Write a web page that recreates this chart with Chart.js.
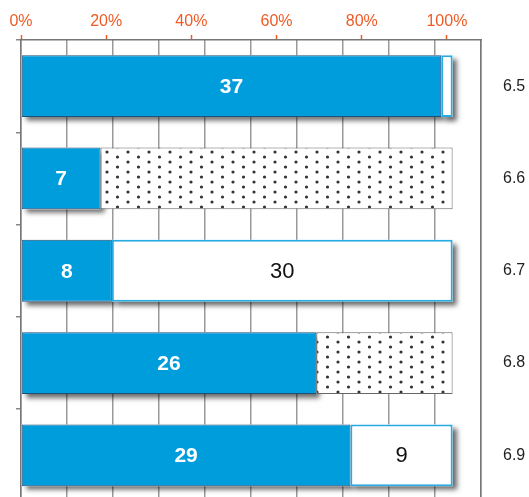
<!DOCTYPE html>
<html>
<head>
<meta charset="utf-8">
<script src="https://cdn.jsdelivr.net/npm/chart.js@4.4.1/dist/chart.umd.min.js"></script>
<style>
  html, body { margin: 0; padding: 0; overflow: hidden; background: #fff; }
  canvas { display: block; }
</style>
</head>
<body>
<canvas id="chart" width="529" height="504"></canvas>
<script>
// categories, top to bottom
const categories = ['6.5', '6.6', '6.7', '6.8', '6.9'];
// blue segment counts
const blueValues = [37, 7, 8, 26, 29];
// open (white) remainder
const whiteValues = [1, null, 30, null, 9];
// dotted remainder
const dottedValues = [null, 31, null, 12, null];
// top percentage axis
const pctTicks = [0, 20, 40, 60, 80, 100];

const ORANGE = '#f15a24';
const FONT = '"Liberation Sans", Arial, sans-serif';

// dotted fill
function makeDots() {
    const c = document.createElement('canvas');
    c.width = 21;
    c.height = 10;
    const g = c.getContext('2d');
    g.fillStyle = '#fff';
    g.fillRect(0, 0, 21, 10);
    g.fillStyle = '#333';
    g.beginPath();
    g.arc(2, 2, 1.6, 0, Math.PI * 2);
    g.arc(12.5, 7, 1.6, 0, Math.PI * 2);
    g.fill();
    return g.createPattern(c, 'repeat');
}

// bar elements clip their own drawing, so the drop shadow goes underneath first
const barShadow = {
    id: 'barShadow',
    beforeDatasetsDraw(chart) {
        const ctx = chart.ctx;
        ctx.save();
        ctx.fillStyle = '#fff';
        ctx.shadowColor = 'rgba(0,0,0,0.6)';
        ctx.shadowBlur = 5;
        ctx.shadowOffsetX = 4;
        ctx.shadowOffsetY = 4;
        chart.data.datasets.forEach((ds, i) => {
            if (!ds.shadow) return;
            chart.getDatasetMeta(i).data.forEach((bar, j) => {
                if (ds.data[j] == null) return;
                const h = bar.height;
                ctx.fillRect(Math.min(bar.x, bar.base), bar.y - h / 2, Math.abs(bar.x - bar.base), h);
            });
        });
        ctx.restore();
    }
};

const valueLabels = {
    id: 'valueLabels',
    afterDatasetsDraw(chart) {
        const ctx = chart.ctx;
        ctx.save();
        ctx.textAlign = 'center';
        ctx.textBaseline = 'middle';
        chart.data.datasets.forEach((ds, i) => {
            if (!ds.labelFont) return;
            chart.getDatasetMeta(i).data.forEach((bar, j) => {
                const v = ds.data[j];
                if (v == null) return;
                if (Math.abs(bar.x - bar.base) < 30) return;
                ctx.font = ds.labelFont;
                ctx.fillStyle = ds.labelColor;
                ctx.fillText(v, (bar.x + bar.base) / 2, bar.y + 1);
            });
        });
        ctx.restore();
    }
};

new Chart(document.getElementById('chart'), {
    type: 'bar',
    data: {
        labels: categories,
        datasets: [
            {
                data: blueValues,
                backgroundColor: '#009ddc',
                borderColor: '#1f4e79',
                borderWidth: 1,
                borderSkipped: false,
                shadow: true,
                labelFont: 'bold 21px ' + FONT,
                labelColor: '#fff'
            },
            {
                data: whiteValues,
                backgroundColor: '#fff',
                borderColor: '#29abe2',
                borderWidth: 2,
                borderSkipped: false,
                shadow: true,
                labelFont: '22px ' + FONT,
                labelColor: '#111'
            },
            {
                data: dottedValues,
                backgroundColor: makeDots(),
                borderColor: '#666',
                borderWidth: 1,
                borderSkipped: false
            }
        ]
    },
    options: {
        indexAxis: 'y',
        responsive: false,
        animation: false,
        categoryPercentage: 1,
        barPercentage: 0.67,
        layout: { padding: { top: 8, left: 16, right: 0, bottom: 2.5 } },
        plugins: {
            legend: { display: false },
            tooltip: { enabled: false }
        },
        scales: {
            x: {
                stacked: true,
                position: 'bottom',
                min: 0,
                max: 40.5,
                afterBuildTicks(scale) {
                    const t = [];
                    for (let k = 0; k <= 10; k++) t.push({ value: scale.max * k / 10 });
                    scale.ticks = t;
                },
                afterFit(scale) { scale.height = 0; },
                ticks: { display: false },
                grid: { color: '#999', lineWidth: 1.5, drawTicks: false },
                border: { display: false }
            },
            x2: {
                type: 'linear',
                position: 'top',
                min: 0,
                max: 108,
                afterBuildTicks(scale) {
                    scale.ticks = pctTicks.map(v => ({ value: v }));
                },
                afterFit(scale) {
                    scale.height = 32;
                    scale.paddingLeft = 0;
                    scale.paddingRight = 0;
                },
                ticks: {
                    color: ORANGE,
                    padding: 4,
                    font: { family: FONT, size: 16 },
                    callback: v => v + '%'
                },
                grid: { drawOnChartArea: false, tickLength: 5, tickColor: ORANGE, tickWidth: 1.5 },
                border: { color: '#777', width: 1.5 }
            },
            y: {
                stacked: true,
                position: 'left',
                afterFit(scale) { scale.width = 5; },
                ticks: { display: false },
                grid: { drawOnChartArea: false, tickLength: 5, color: '#888', lineWidth: 1.5 },
                border: { color: '#777', width: 1.5 }
            },
            y2: {
                type: 'category',
                labels: categories,
                position: 'right',
                offset: true,
                afterFit(scale) {
                    scale.width = 48;
                    scale.paddingTop = 0;
                    scale.paddingBottom = 0;
                },
                ticks: {
                    color: '#222',
                    padding: 14,
                    font: { family: FONT, size: 16 }
                },
                grid: { display: false },
                border: { color: '#777', width: 1.5 }
            }
        }
    },
    plugins: [barShadow, valueLabels]
});
</script>
</body>
</html>
